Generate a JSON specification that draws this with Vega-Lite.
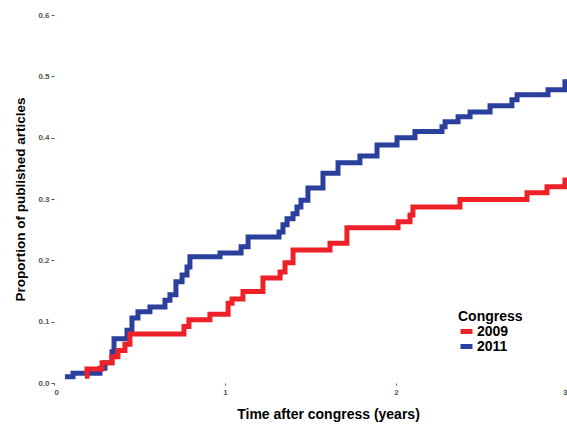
{
  "$schema": "https://vega.github.io/schema/vega-lite/v6.json",
  "autosize": "none",
  "width": 513,
  "height": 368,
  "padding": {"left": 54, "top": 15, "right": 0, "bottom": 41},
  "background": "white",
  "config": {
    "view": {"stroke": null},
    "font": "Liberation Sans",
    "axis": {"grid": false, "domain": false, "labelFont": "Liberation Sans", "titleFont": "Liberation Sans"}
  },
  "data": {
    "values": [
      {"congress": "2011", "t": 0.064, "p": 0.010},
      {"congress": "2011", "t": 0.111, "p": 0.016},
      {"congress": "2011", "t": 0.269, "p": 0.024},
      {"congress": "2011", "t": 0.298, "p": 0.033},
      {"congress": "2011", "t": 0.339, "p": 0.051},
      {"congress": "2011", "t": 0.351, "p": 0.072},
      {"congress": "2011", "t": 0.427, "p": 0.086},
      {"congress": "2011", "t": 0.456, "p": 0.106},
      {"congress": "2011", "t": 0.491, "p": 0.116},
      {"congress": "2011", "t": 0.561, "p": 0.124},
      {"congress": "2011", "t": 0.649, "p": 0.135},
      {"congress": "2011", "t": 0.678, "p": 0.144},
      {"congress": "2011", "t": 0.713, "p": 0.165},
      {"congress": "2011", "t": 0.749, "p": 0.176},
      {"congress": "2011", "t": 0.778, "p": 0.189},
      {"congress": "2011", "t": 0.795, "p": 0.206},
      {"congress": "2011", "t": 0.971, "p": 0.212},
      {"congress": "2011", "t": 1.094, "p": 0.222},
      {"congress": "2011", "t": 1.135, "p": 0.238},
      {"congress": "2011", "t": 1.316, "p": 0.246},
      {"congress": "2011", "t": 1.339, "p": 0.258},
      {"congress": "2011", "t": 1.363, "p": 0.268},
      {"congress": "2011", "t": 1.398, "p": 0.276},
      {"congress": "2011", "t": 1.421, "p": 0.287},
      {"congress": "2011", "t": 1.444, "p": 0.298},
      {"congress": "2011", "t": 1.485, "p": 0.318},
      {"congress": "2011", "t": 1.573, "p": 0.342},
      {"congress": "2011", "t": 1.661, "p": 0.359},
      {"congress": "2011", "t": 1.789, "p": 0.370},
      {"congress": "2011", "t": 1.889, "p": 0.388},
      {"congress": "2011", "t": 2.006, "p": 0.400},
      {"congress": "2011", "t": 2.111, "p": 0.410},
      {"congress": "2011", "t": 2.269, "p": 0.418},
      {"congress": "2011", "t": 2.287, "p": 0.426},
      {"congress": "2011", "t": 2.363, "p": 0.434},
      {"congress": "2011", "t": 2.433, "p": 0.442},
      {"congress": "2011", "t": 2.550, "p": 0.452},
      {"congress": "2011", "t": 2.678, "p": 0.462},
      {"congress": "2011", "t": 2.708, "p": 0.470},
      {"congress": "2011", "t": 2.889, "p": 0.478},
      {"congress": "2011", "t": 2.988, "p": 0.491},
      {"congress": "2011", "t": 3.05, "p": 0.491},
      {"congress": "2009", "t": 0.181, "p": 0.011},
      {"congress": "2009", "t": 0.193, "p": 0.023},
      {"congress": "2009", "t": 0.281, "p": 0.033},
      {"congress": "2009", "t": 0.339, "p": 0.043},
      {"congress": "2009", "t": 0.374, "p": 0.053},
      {"congress": "2009", "t": 0.415, "p": 0.063},
      {"congress": "2009", "t": 0.444, "p": 0.080},
      {"congress": "2009", "t": 0.760, "p": 0.092},
      {"congress": "2009", "t": 0.789, "p": 0.103},
      {"congress": "2009", "t": 0.912, "p": 0.112},
      {"congress": "2009", "t": 1.018, "p": 0.130},
      {"congress": "2009", "t": 1.041, "p": 0.137},
      {"congress": "2009", "t": 1.105, "p": 0.149},
      {"congress": "2009", "t": 1.222, "p": 0.171},
      {"congress": "2009", "t": 1.322, "p": 0.181},
      {"congress": "2009", "t": 1.351, "p": 0.196},
      {"congress": "2009", "t": 1.398, "p": 0.217},
      {"congress": "2009", "t": 1.614, "p": 0.228},
      {"congress": "2009", "t": 1.713, "p": 0.253},
      {"congress": "2009", "t": 2.012, "p": 0.263},
      {"congress": "2009", "t": 2.082, "p": 0.274},
      {"congress": "2009", "t": 2.099, "p": 0.287},
      {"congress": "2009", "t": 2.374, "p": 0.299},
      {"congress": "2009", "t": 2.766, "p": 0.310},
      {"congress": "2009", "t": 2.883, "p": 0.320},
      {"congress": "2009", "t": 2.988, "p": 0.331},
      {"congress": "2009", "t": 3.05, "p": 0.331}
    ]
  },
  "mark": {"type": "line", "interpolate": "step-after", "strokeWidth": 5, "clip": true},
  "encoding": {
    "x": {
      "field": "t", "type": "quantitative",
      "scale": {"domain": [0, 3], "nice": false, "zero": false},
      "axis": {
        "values": [0, 1, 2, 3], "format": "d", "title": "Time after congress (years)",
        "labelFontSize": 8, "labelFontWeight": "bold", "labelColor": "#555555", "tickSize": 2, "tickColor": "#555555",
        "labelPadding": 3, "titleFontSize": 14, "titleFontWeight": "bold", "titleColor": "#000",
        "titlePadding": 11, "titleX": 274
      }
    },
    "y": {
      "field": "p", "type": "quantitative",
      "scale": {"domain": [0, 0.6], "nice": false},
      "axis": {
        "values": [0, 0.1, 0.2, 0.3, 0.4, 0.5, 0.6], "format": ".1f",
        "title": "Proportion of published articles",
        "labelFontSize": 8, "labelFontWeight": "bold", "labelColor": "#555555", "tickSize": 3, "tickColor": "#555555",
        "labelPadding": 2, "titleFontSize": 13.5, "titleFontWeight": "bold", "titleColor": "#000",
        "titlePadding": 10
      }
    },
    "color": {
      "field": "congress", "type": "nominal",
      "scale": {"domain": ["2009", "2011"], "range": ["#ee2128", "#2b3f9c"]},
      "legend": {
        "title": "Congress", "orient": "none", "legendX": 404, "legendY": 295,
        "titleFontSize": 14, "titleFontWeight": "bold", "titleColor": "#000", "titlePadding": 1,
        "labelFontSize": 14, "labelFontWeight": "bold", "labelColor": "#000", "labelOffset": 2,
        "symbolType": "stroke", "symbolSize": 144, "symbolStrokeWidth": 5, "rowPadding": 0,
        "symbolOffset": 0, "clipHeight": 13
      }
    }
  }
}
